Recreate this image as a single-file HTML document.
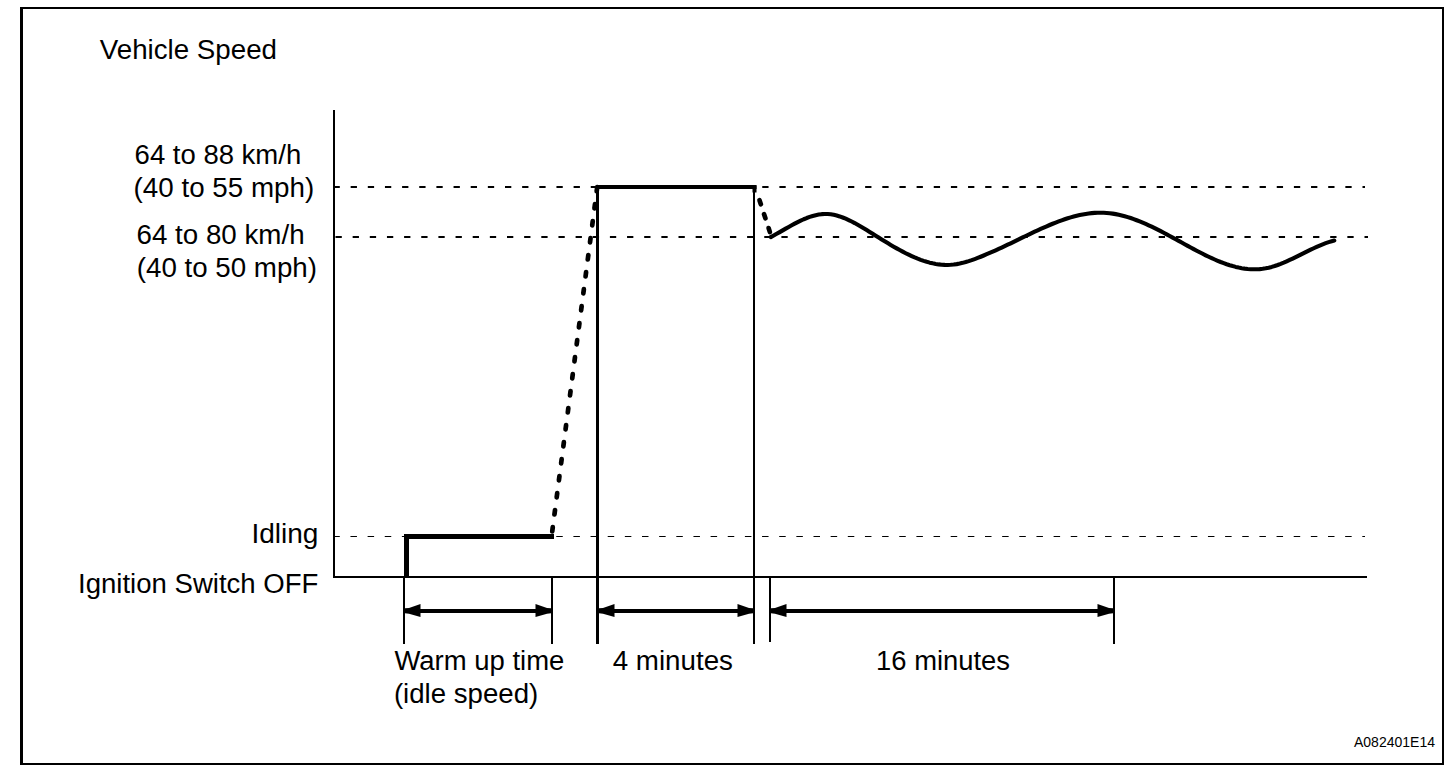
<!DOCTYPE html>
<html><head><meta charset="utf-8">
<style>
html,body{margin:0;padding:0;background:#fff;}
body{width:1456px;height:776px;overflow:hidden;position:relative;}
svg{position:absolute;left:0;top:0;}
text{font-family:"Liberation Sans",sans-serif;fill:#000;}
</style></head><body>
<svg width="1456" height="776" viewBox="0 0 1456 776">
<g fill="#000" stroke="none">
<rect x="20" y="7" width="3" height="758"/>
<rect x="20" y="7" width="1424" height="2"/>
<rect x="1442" y="7" width="2" height="758"/>
<rect x="20" y="763" width="1424" height="2"/>
<rect x="333" y="110" width="2" height="468"/>
<rect x="333" y="576" width="1034" height="2"/>
<rect x="335.00" y="186.00" width="4.80" height="2.00"/>
<rect x="350.65" y="186.00" width="6.30" height="2.00"/>
<rect x="367.80" y="186.00" width="6.30" height="2.00"/>
<rect x="384.95" y="186.00" width="6.30" height="2.00"/>
<rect x="402.10" y="186.00" width="6.30" height="2.00"/>
<rect x="419.25" y="186.00" width="6.30" height="2.00"/>
<rect x="436.40" y="186.00" width="6.30" height="2.00"/>
<rect x="453.55" y="186.00" width="6.30" height="2.00"/>
<rect x="470.70" y="186.00" width="6.30" height="2.00"/>
<rect x="487.85" y="186.00" width="6.30" height="2.00"/>
<rect x="505.00" y="186.00" width="6.30" height="2.00"/>
<rect x="522.15" y="186.00" width="6.30" height="2.00"/>
<rect x="539.30" y="186.00" width="6.30" height="2.00"/>
<rect x="556.45" y="186.00" width="6.30" height="2.00"/>
<rect x="573.60" y="186.00" width="6.30" height="2.00"/>
<rect x="590.75" y="186.00" width="6.30" height="2.00"/>
<rect x="607.90" y="186.00" width="6.30" height="2.00"/>
<rect x="625.05" y="186.00" width="6.30" height="2.00"/>
<rect x="642.20" y="186.00" width="6.30" height="2.00"/>
<rect x="659.35" y="186.00" width="6.30" height="2.00"/>
<rect x="676.50" y="186.00" width="6.30" height="2.00"/>
<rect x="693.65" y="186.00" width="6.30" height="2.00"/>
<rect x="710.80" y="186.00" width="6.30" height="2.00"/>
<rect x="727.95" y="186.00" width="6.30" height="2.00"/>
<rect x="745.10" y="186.00" width="6.30" height="2.00"/>
<rect x="762.25" y="186.00" width="6.30" height="2.00"/>
<rect x="779.40" y="186.00" width="6.30" height="2.00"/>
<rect x="796.55" y="186.00" width="6.30" height="2.00"/>
<rect x="813.70" y="186.00" width="6.30" height="2.00"/>
<rect x="830.85" y="186.00" width="6.30" height="2.00"/>
<rect x="848.00" y="186.00" width="6.30" height="2.00"/>
<rect x="865.15" y="186.00" width="6.30" height="2.00"/>
<rect x="882.30" y="186.00" width="6.30" height="2.00"/>
<rect x="899.45" y="186.00" width="6.30" height="2.00"/>
<rect x="916.60" y="186.00" width="6.30" height="2.00"/>
<rect x="933.75" y="186.00" width="6.30" height="2.00"/>
<rect x="950.90" y="186.00" width="6.30" height="2.00"/>
<rect x="968.05" y="186.00" width="6.30" height="2.00"/>
<rect x="985.20" y="186.00" width="6.30" height="2.00"/>
<rect x="1002.35" y="186.00" width="6.30" height="2.00"/>
<rect x="1019.50" y="186.00" width="6.30" height="2.00"/>
<rect x="1036.65" y="186.00" width="6.30" height="2.00"/>
<rect x="1053.80" y="186.00" width="6.30" height="2.00"/>
<rect x="1070.95" y="186.00" width="6.30" height="2.00"/>
<rect x="1088.10" y="186.00" width="6.30" height="2.00"/>
<rect x="1105.25" y="186.00" width="6.30" height="2.00"/>
<rect x="1122.40" y="186.00" width="6.30" height="2.00"/>
<rect x="1139.55" y="186.00" width="6.30" height="2.00"/>
<rect x="1156.70" y="186.00" width="6.30" height="2.00"/>
<rect x="1173.85" y="186.00" width="6.30" height="2.00"/>
<rect x="1191.00" y="186.00" width="6.30" height="2.00"/>
<rect x="1208.15" y="186.00" width="6.30" height="2.00"/>
<rect x="1225.30" y="186.00" width="6.30" height="2.00"/>
<rect x="1242.45" y="186.00" width="6.30" height="2.00"/>
<rect x="1259.60" y="186.00" width="6.30" height="2.00"/>
<rect x="1276.75" y="186.00" width="6.30" height="2.00"/>
<rect x="1293.90" y="186.00" width="6.30" height="2.00"/>
<rect x="1311.05" y="186.00" width="6.30" height="2.00"/>
<rect x="1328.20" y="186.00" width="6.30" height="2.00"/>
<rect x="1345.35" y="186.00" width="6.30" height="2.00"/>
<rect x="1362.50" y="186.00" width="2.50" height="2.00"/>
<rect x="335.50" y="236.00" width="6.30" height="2.00"/>
<rect x="352.65" y="236.00" width="6.30" height="2.00"/>
<rect x="369.80" y="236.00" width="6.30" height="2.00"/>
<rect x="386.95" y="236.00" width="6.30" height="2.00"/>
<rect x="404.10" y="236.00" width="6.30" height="2.00"/>
<rect x="421.25" y="236.00" width="6.30" height="2.00"/>
<rect x="438.40" y="236.00" width="6.30" height="2.00"/>
<rect x="455.55" y="236.00" width="6.30" height="2.00"/>
<rect x="472.70" y="236.00" width="6.30" height="2.00"/>
<rect x="489.85" y="236.00" width="6.30" height="2.00"/>
<rect x="507.00" y="236.00" width="6.30" height="2.00"/>
<rect x="524.15" y="236.00" width="6.30" height="2.00"/>
<rect x="541.30" y="236.00" width="6.30" height="2.00"/>
<rect x="558.45" y="236.00" width="6.30" height="2.00"/>
<rect x="575.60" y="236.00" width="6.30" height="2.00"/>
<rect x="592.75" y="236.00" width="6.30" height="2.00"/>
<rect x="609.90" y="236.00" width="6.30" height="2.00"/>
<rect x="627.05" y="236.00" width="6.30" height="2.00"/>
<rect x="644.20" y="236.00" width="6.30" height="2.00"/>
<rect x="661.35" y="236.00" width="6.30" height="2.00"/>
<rect x="678.50" y="236.00" width="6.30" height="2.00"/>
<rect x="695.65" y="236.00" width="6.30" height="2.00"/>
<rect x="712.80" y="236.00" width="6.30" height="2.00"/>
<rect x="729.95" y="236.00" width="6.30" height="2.00"/>
<rect x="747.10" y="236.00" width="6.30" height="2.00"/>
<rect x="764.25" y="236.00" width="6.30" height="2.00"/>
<rect x="781.40" y="236.00" width="6.30" height="2.00"/>
<rect x="798.55" y="236.00" width="6.30" height="2.00"/>
<rect x="815.70" y="236.00" width="6.30" height="2.00"/>
<rect x="832.85" y="236.00" width="6.30" height="2.00"/>
<rect x="850.00" y="236.00" width="6.30" height="2.00"/>
<rect x="867.15" y="236.00" width="6.30" height="2.00"/>
<rect x="884.30" y="236.00" width="6.30" height="2.00"/>
<rect x="901.45" y="236.00" width="6.30" height="2.00"/>
<rect x="918.60" y="236.00" width="6.30" height="2.00"/>
<rect x="935.75" y="236.00" width="6.30" height="2.00"/>
<rect x="952.90" y="236.00" width="6.30" height="2.00"/>
<rect x="970.05" y="236.00" width="6.30" height="2.00"/>
<rect x="987.20" y="236.00" width="6.30" height="2.00"/>
<rect x="1004.35" y="236.00" width="6.30" height="2.00"/>
<rect x="1021.50" y="236.00" width="6.30" height="2.00"/>
<rect x="1038.65" y="236.00" width="6.30" height="2.00"/>
<rect x="1055.80" y="236.00" width="6.30" height="2.00"/>
<rect x="1072.95" y="236.00" width="6.30" height="2.00"/>
<rect x="1090.10" y="236.00" width="6.30" height="2.00"/>
<rect x="1107.25" y="236.00" width="6.30" height="2.00"/>
<rect x="1124.40" y="236.00" width="6.30" height="2.00"/>
<rect x="1141.55" y="236.00" width="6.30" height="2.00"/>
<rect x="1158.70" y="236.00" width="6.30" height="2.00"/>
<rect x="1175.85" y="236.00" width="6.30" height="2.00"/>
<rect x="1193.00" y="236.00" width="6.30" height="2.00"/>
<rect x="1210.15" y="236.00" width="6.30" height="2.00"/>
<rect x="1227.30" y="236.00" width="6.30" height="2.00"/>
<rect x="1244.45" y="236.00" width="6.30" height="2.00"/>
<rect x="1261.60" y="236.00" width="6.30" height="2.00"/>
<rect x="1278.75" y="236.00" width="6.30" height="2.00"/>
<rect x="1295.90" y="236.00" width="6.30" height="2.00"/>
<rect x="1313.05" y="236.00" width="6.30" height="2.00"/>
<rect x="1330.20" y="236.00" width="6.30" height="2.00"/>
<rect x="1347.35" y="236.00" width="6.30" height="2.00"/>
<rect x="1364.50" y="236.00" width="3.50" height="2.00"/>
<rect x="335.00" y="536.00" width="4.80" height="1.00"/>
<rect x="350.45" y="536.00" width="6.50" height="1.00"/>
<rect x="367.60" y="536.00" width="6.50" height="1.00"/>
<rect x="384.75" y="536.00" width="6.50" height="1.00"/>
<rect x="401.90" y="536.00" width="6.50" height="1.00"/>
<rect x="419.05" y="536.00" width="6.50" height="1.00"/>
<rect x="436.20" y="536.00" width="6.50" height="1.00"/>
<rect x="453.35" y="536.00" width="6.50" height="1.00"/>
<rect x="470.50" y="536.00" width="6.50" height="1.00"/>
<rect x="487.65" y="536.00" width="6.50" height="1.00"/>
<rect x="504.80" y="536.00" width="6.50" height="1.00"/>
<rect x="521.95" y="536.00" width="6.50" height="1.00"/>
<rect x="539.10" y="536.00" width="6.50" height="1.00"/>
<rect x="556.25" y="536.00" width="6.50" height="1.00"/>
<rect x="573.40" y="536.00" width="6.50" height="1.00"/>
<rect x="590.55" y="536.00" width="6.50" height="1.00"/>
<rect x="607.70" y="536.00" width="6.50" height="1.00"/>
<rect x="624.85" y="536.00" width="6.50" height="1.00"/>
<rect x="642.00" y="536.00" width="6.50" height="1.00"/>
<rect x="659.15" y="536.00" width="6.50" height="1.00"/>
<rect x="676.30" y="536.00" width="6.50" height="1.00"/>
<rect x="693.45" y="536.00" width="6.50" height="1.00"/>
<rect x="710.60" y="536.00" width="6.50" height="1.00"/>
<rect x="727.75" y="536.00" width="6.50" height="1.00"/>
<rect x="744.90" y="536.00" width="6.50" height="1.00"/>
<rect x="762.05" y="536.00" width="6.50" height="1.00"/>
<rect x="779.20" y="536.00" width="6.50" height="1.00"/>
<rect x="796.35" y="536.00" width="6.50" height="1.00"/>
<rect x="813.50" y="536.00" width="6.50" height="1.00"/>
<rect x="830.65" y="536.00" width="6.50" height="1.00"/>
<rect x="847.80" y="536.00" width="6.50" height="1.00"/>
<rect x="864.95" y="536.00" width="6.50" height="1.00"/>
<rect x="882.10" y="536.00" width="6.50" height="1.00"/>
<rect x="899.25" y="536.00" width="6.50" height="1.00"/>
<rect x="916.40" y="536.00" width="6.50" height="1.00"/>
<rect x="933.55" y="536.00" width="6.50" height="1.00"/>
<rect x="950.70" y="536.00" width="6.50" height="1.00"/>
<rect x="967.85" y="536.00" width="6.50" height="1.00"/>
<rect x="985.00" y="536.00" width="6.50" height="1.00"/>
<rect x="1002.15" y="536.00" width="6.50" height="1.00"/>
<rect x="1019.30" y="536.00" width="6.50" height="1.00"/>
<rect x="1036.45" y="536.00" width="6.50" height="1.00"/>
<rect x="1053.60" y="536.00" width="6.50" height="1.00"/>
<rect x="1070.75" y="536.00" width="6.50" height="1.00"/>
<rect x="1087.90" y="536.00" width="6.50" height="1.00"/>
<rect x="1105.05" y="536.00" width="6.50" height="1.00"/>
<rect x="1122.20" y="536.00" width="6.50" height="1.00"/>
<rect x="1139.35" y="536.00" width="6.50" height="1.00"/>
<rect x="1156.50" y="536.00" width="6.50" height="1.00"/>
<rect x="1173.65" y="536.00" width="6.50" height="1.00"/>
<rect x="1190.80" y="536.00" width="6.50" height="1.00"/>
<rect x="1207.95" y="536.00" width="6.50" height="1.00"/>
<rect x="1225.10" y="536.00" width="6.50" height="1.00"/>
<rect x="1242.25" y="536.00" width="6.50" height="1.00"/>
<rect x="1259.40" y="536.00" width="6.50" height="1.00"/>
<rect x="1276.55" y="536.00" width="6.50" height="1.00"/>
<rect x="1293.70" y="536.00" width="6.50" height="1.00"/>
<rect x="1310.85" y="536.00" width="6.50" height="1.00"/>
<rect x="1328.00" y="536.00" width="6.50" height="1.00"/>
<rect x="1345.15" y="536.00" width="6.50" height="1.00"/>
<rect x="1362.30" y="536.00" width="2.70" height="1.00"/>
<rect x="404" y="534" width="5" height="44"/>
<rect x="404" y="534" width="150" height="5"/>
<rect x="596" y="185" width="160.5" height="4"/>
<rect x="596" y="185" width="3" height="459"/>
<rect x="753" y="185" width="2" height="459"/>
<rect x="752.5" y="185.5" width="4" height="7"/>
<rect x="403" y="578" width="2" height="66"/>
<rect x="551" y="578" width="2" height="66"/>
<rect x="769" y="578" width="2" height="64"/>
<rect x="1113" y="578" width="2" height="66"/>
<rect x="405" y="609" width="146" height="4"/>
<polygon points="405.0,608.2 409.0,608.0 420.5,604.0 420.5,617.0 409.0,613.8 405.0,613.3"/>
<polygon points="551.0,608.2 547.0,608.0 535.5,604.0 535.5,617.0 547.0,613.8 551.0,613.3"/>
<rect x="599" y="609" width="154" height="4"/>
<polygon points="599.0,608.2 603.0,608.0 614.5,604.0 614.5,617.0 603.0,613.8 599.0,613.3"/>
<polygon points="753.0,608.2 749.0,608.0 737.5,604.0 737.5,617.0 749.0,613.8 753.0,613.3"/>
<rect x="771" y="609" width="342" height="4"/>
<polygon points="771.0,608.2 775.0,608.0 786.5,604.0 786.5,617.0 775.0,613.8 771.0,613.3"/>
<polygon points="1113.0,608.2 1109.0,608.0 1097.5,604.0 1097.5,617.0 1109.0,613.8 1113.0,613.3"/>
</g>
<g stroke="#000" stroke-width="4.7" stroke-linecap="round" fill="none">
<line x1="552.23" y1="531.43" x2="552.78" y2="527.17"/>
<line x1="554.45" y1="514.43" x2="555.01" y2="510.17"/>
<line x1="556.67" y1="497.43" x2="557.23" y2="493.17"/>
<line x1="558.89" y1="480.43" x2="559.45" y2="476.17"/>
<line x1="561.11" y1="463.43" x2="561.67" y2="459.17"/>
<line x1="563.33" y1="446.43" x2="563.89" y2="442.17"/>
<line x1="565.55" y1="429.43" x2="566.11" y2="425.17"/>
<line x1="567.78" y1="412.43" x2="568.33" y2="408.17"/>
<line x1="570.00" y1="395.43" x2="570.55" y2="391.17"/>
<line x1="572.22" y1="378.43" x2="572.78" y2="374.17"/>
<line x1="574.44" y1="361.43" x2="575.00" y2="357.17"/>
<line x1="576.66" y1="344.43" x2="577.22" y2="340.17"/>
<line x1="578.88" y1="327.43" x2="579.44" y2="323.17"/>
<line x1="581.10" y1="310.43" x2="581.66" y2="306.17"/>
<line x1="583.32" y1="293.43" x2="583.88" y2="289.17"/>
<line x1="585.55" y1="276.43" x2="586.10" y2="272.17"/>
<line x1="587.77" y1="259.43" x2="588.32" y2="255.17"/>
<line x1="589.99" y1="242.43" x2="590.55" y2="238.17"/>
<line x1="592.21" y1="225.43" x2="592.77" y2="221.17"/>
<line x1="594.43" y1="208.43" x2="594.99" y2="204.17"/>
<line x1="596.65" y1="191.43" x2="597.21" y2="187.17"/>
<line x1="759.50" y1="200.26" x2="760.84" y2="204.34"/>
<line x1="764.07" y1="214.26" x2="765.41" y2="218.34"/>
<line x1="768.58" y1="228.06" x2="769.91" y2="232.14"/>
</g>
<path d="M770.7,237.14 L773.7,235.50 L776.7,233.81 L779.7,232.10 L782.7,230.37 L785.7,228.64 L788.7,226.93 L791.7,225.26 L794.7,223.64 L797.7,222.09 L800.7,220.63 L803.7,219.26 L806.7,218.02 L809.7,216.91 L812.7,215.96 L815.7,215.17 L818.7,214.57 L821.7,214.17 L824.7,213.98 L827.7,214.04 L830.7,214.32 L833.7,214.83 L836.7,215.53 L839.7,216.42 L842.7,217.48 L845.7,218.69 L848.7,220.04 L851.7,221.51 L854.7,223.08 L857.7,224.75 L860.7,226.49 L863.7,228.28 L866.7,230.12 L869.7,231.98 L872.7,233.85 L875.7,235.73 L878.7,237.60 L881.7,239.46 L884.7,241.30 L887.7,243.12 L890.7,244.91 L893.7,246.67 L896.7,248.38 L899.7,250.04 L902.7,251.65 L905.7,253.20 L908.7,254.68 L911.7,256.09 L914.7,257.42 L917.7,258.66 L920.7,259.81 L923.7,260.86 L926.7,261.80 L929.7,262.64 L932.7,263.35 L935.7,263.95 L938.7,264.41 L941.7,264.73 L944.7,264.91 L947.7,264.95 L950.7,264.82 L953.7,264.54 L956.7,264.11 L959.7,263.55 L962.7,262.86 L965.7,262.05 L968.7,261.15 L971.7,260.15 L974.7,259.07 L977.7,257.93 L980.7,256.73 L983.7,255.49 L986.7,254.22 L989.7,252.92 L992.7,251.60 L995.7,250.26 L998.7,248.90 L1001.7,247.52 L1004.7,246.12 L1007.7,244.71 L1010.7,243.28 L1013.7,241.83 L1016.7,240.38 L1019.7,238.92 L1022.7,237.47 L1025.7,236.01 L1028.7,234.57 L1031.7,233.13 L1034.7,231.71 L1037.7,230.32 L1040.7,228.94 L1043.7,227.59 L1046.7,226.28 L1049.7,225.00 L1052.7,223.76 L1055.7,222.57 L1058.7,221.42 L1061.7,220.33 L1064.7,219.29 L1067.7,218.31 L1070.7,217.40 L1073.7,216.55 L1076.7,215.78 L1079.7,215.08 L1082.7,214.47 L1085.7,213.94 L1088.7,213.49 L1091.7,213.14 L1094.7,212.89 L1097.7,212.74 L1100.7,212.69 L1103.7,212.75 L1106.7,212.93 L1109.7,213.21 L1112.7,213.61 L1115.7,214.12 L1118.7,214.72 L1121.7,215.43 L1124.7,216.22 L1127.7,217.10 L1130.7,218.06 L1133.7,219.10 L1136.7,220.22 L1139.7,221.40 L1142.7,222.65 L1145.7,223.95 L1148.7,225.31 L1151.7,226.72 L1154.7,228.18 L1157.7,229.67 L1160.7,231.20 L1163.7,232.77 L1166.7,234.36 L1169.7,235.97 L1172.7,237.60 L1175.7,239.24 L1178.7,240.89 L1181.7,242.54 L1184.7,244.19 L1187.7,245.84 L1190.7,247.48 L1193.7,249.10 L1196.7,250.69 L1199.7,252.26 L1202.7,253.80 L1205.7,255.30 L1208.7,256.75 L1211.7,258.15 L1214.7,259.50 L1217.7,260.78 L1220.7,262.00 L1223.7,263.14 L1226.7,264.21 L1229.7,265.19 L1232.7,266.08 L1235.7,266.88 L1238.7,267.57 L1241.7,268.16 L1244.7,268.63 L1247.7,268.99 L1250.7,269.22 L1253.7,269.32 L1256.7,269.28 L1259.7,269.11 L1262.7,268.79 L1265.7,268.31 L1268.7,267.68 L1271.7,266.91 L1274.7,266.00 L1277.7,264.98 L1280.7,263.85 L1283.7,262.63 L1286.7,261.33 L1289.7,259.97 L1292.7,258.55 L1295.7,257.09 L1298.7,255.61 L1301.7,254.11 L1304.7,252.61 L1307.7,251.12 L1310.7,249.65 L1313.7,248.23 L1316.7,246.85 L1319.7,245.54 L1322.7,244.30 L1325.7,243.16 L1328.7,242.11 L1331.7,241.18 L1334.3,240.48" stroke="#000" stroke-width="4.1" fill="none" stroke-linecap="round" stroke-linejoin="round"/>
<g font-size="27">
<text x="99.8" y="58.8" font-size="27.4" textLength="177.2" lengthAdjust="spacingAndGlyphs">Vehicle Speed</text>
<text x="134.6" y="163.8" textLength="166.6" lengthAdjust="spacingAndGlyphs">64 to 88 km/h</text>
<text x="133.6" y="196.7" textLength="180.6" lengthAdjust="spacingAndGlyphs">(40 to 55 mph)</text>
<text x="136.5" y="243.8" textLength="168.1" lengthAdjust="spacingAndGlyphs">64 to 80 km/h</text>
<text x="136.75" y="276.7" textLength="180.2" lengthAdjust="spacingAndGlyphs">(40 to 50 mph)</text>
<text x="251.4" y="543" textLength="67" lengthAdjust="spacingAndGlyphs">Idling</text>
<text x="78" y="593" textLength="240.4" lengthAdjust="spacingAndGlyphs">Ignition Switch OFF</text>
<text x="394.4" y="669.5" textLength="170" lengthAdjust="spacingAndGlyphs">Warm up time</text>
<text x="393.9" y="702.5" textLength="144.3" lengthAdjust="spacingAndGlyphs">(idle speed)</text>
<text x="612.7" y="669.9" textLength="120.3" lengthAdjust="spacingAndGlyphs">4 minutes</text>
<text x="876.1" y="669.9" textLength="133.9" lengthAdjust="spacingAndGlyphs">16 minutes</text>
<text x="1354.0" y="747.3" font-size="14">A082401E14</text>
</g>
</svg>
</body></html>
